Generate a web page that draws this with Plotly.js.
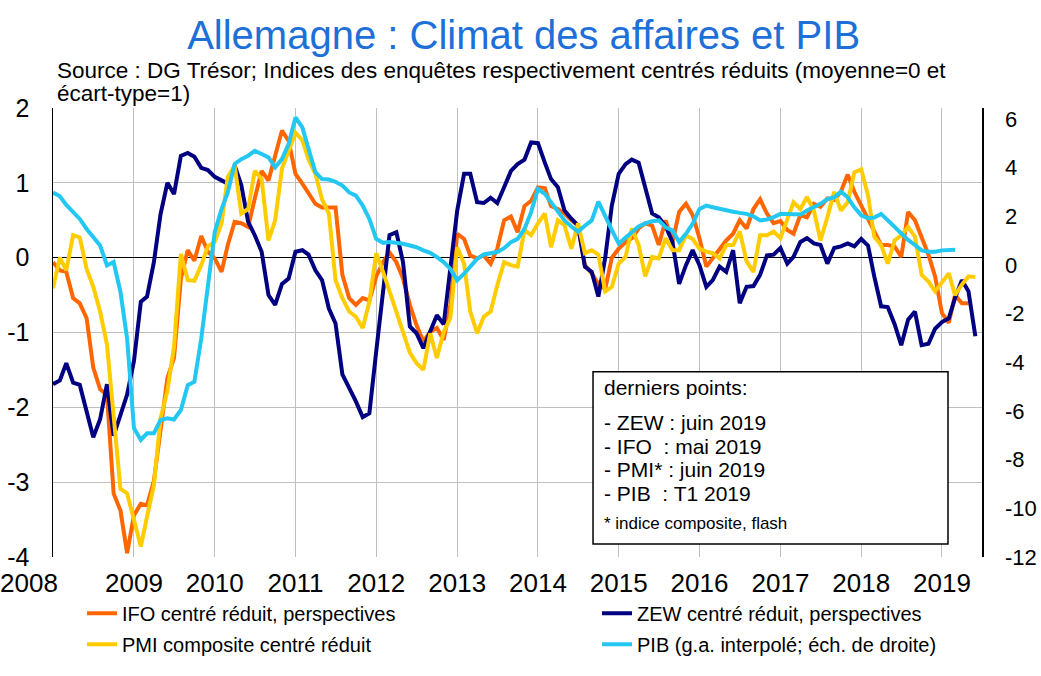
<!DOCTYPE html>
<html>
<head>
<meta charset="utf-8">
<script src="https://cdn.plot.ly/plotly-3.0.1.min.js"></script>
<style>html,body{margin:0;padding:0;background:#fff;}#chart{width:1041px;height:676px;}</style>
</head>
<body>
<div id="chart"></div>
<script>
// Monthly series, first month = January 2008
const startYear = 2008;
const yearTicks = [2008,2009,2010,2011,2012,2013,2014,2015,2016,2017,2018,2019];
const leftTicks = [-4,-3,-2,-1,0,1,2];
const rightTicks = [-12,-10,-8,-6,-4,-2,0,2,4,6];

const seriesNames = ["IFO centré réduit, perspectives", "ZEW centré réduit, perspectives",
  "PMI composite centré réduit", "PIB (g.a. interpolé; éch. de droite)"];

const ifo = [-0.06,-0.17,-0.19,-0.54,-0.61,-0.81,-1.47,-1.76,-1.83,-3.15,-3.38,-3.95,
  -3.44,-3.29,-3.31,-2.98,-2.31,-1.61,-1.34,-0.28,0.10,-0.04,0.29,0.08,
  -0.01,-0.19,0.17,0.48,0.46,0.41,0.79,1.16,1.03,1.36,1.70,1.56,
  1.12,0.99,0.85,0.72,0.67,0.67,0.67,-0.23,-0.54,-0.63,-0.54,-0.57,
  -0.25,-0.06,0.07,-0.06,-0.28,-0.63,-0.90,-1.12,-0.99,-0.94,-1.10,-0.63,
  0.32,0.25,0.03,-0.01,0.03,-0.08,0.12,0.50,0.55,0.34,0.69,0.76,
  0.94,0.93,0.69,0.65,0.59,0.50,0.43,-0.10,-0.21,-0.35,-0.42,0.00,
  0.12,0.21,0.26,0.39,0.46,0.43,0.17,0.50,0.21,0.61,0.72,0.57,
  0.26,-0.12,-0.01,0.12,0.23,0.32,0.50,0.39,0.65,0.78,0.59,0.46,
  0.49,0.37,0.32,0.57,0.54,0.72,0.68,0.79,0.77,0.88,1.11,0.88,
  0.70,0.52,0.35,0.17,0.17,0.15,0.01,0.61,0.50,0.28,0.04,-0.25,
  -0.74,-0.87,-0.50,-0.61,-0.61];

const zew = [-1.69,-1.64,-1.41,-1.67,-1.70,-2.05,-2.40,-2.16,-1.69,-2.38,-2.09,-1.83,
  -1.38,-0.59,-0.52,-0.06,0.58,1.00,0.85,1.36,1.40,1.35,1.20,1.17,
  1.08,1.03,0.99,1.23,0.97,0.48,0.30,0.08,-0.50,-0.63,-0.35,-0.28,
  0.08,0.10,0.04,-0.17,-0.30,-0.68,-0.88,-1.56,-1.74,-1.92,-2.13,-2.08,
  -1.25,-0.45,0.30,0.34,-0.06,-0.92,-1.01,-1.21,-0.99,-0.77,-0.89,-0.15,
  0.63,1.12,1.12,0.74,0.73,0.80,0.73,0.94,1.16,1.25,1.31,1.54,
  1.53,1.27,1.05,0.94,0.63,0.52,0.43,-0.12,-0.19,-0.52,0.00,0.70,
  1.12,1.25,1.31,1.27,0.95,0.59,0.54,0.42,0.21,-0.35,-0.10,0.10,
  -0.10,-0.39,-0.30,-0.12,-0.19,0.10,-0.61,-0.39,-0.38,-0.23,0.03,0.04,
  0.13,-0.08,0.01,0.21,0.26,0.19,0.17,-0.08,0.13,0.15,0.19,0.15,
  0.25,0.16,-0.25,-0.65,-0.66,-0.89,-1.17,-0.83,-0.72,-1.17,-1.15,-0.95,
  -0.86,-0.81,-0.54,-0.30,-0.45,-1.05];

const pmi = [-0.41,0.00,-0.17,0.30,0.27,-0.15,-0.39,-0.72,-1.16,-2.09,-3.09,-3.15,
  -3.49,-3.86,-3.46,-3.04,-2.15,-1.78,-1.19,0.05,-0.30,-0.31,-0.10,0.15,
  0.21,0.46,1.08,1.23,0.59,0.65,1.16,1.05,0.23,0.50,1.19,1.43,
  1.67,1.57,1.31,1.12,0.78,0.59,-0.30,-0.54,-0.72,-0.79,-0.94,-0.59,
  0.06,-0.19,-0.45,-0.72,-0.99,-1.27,-1.41,-1.50,-1.01,-1.34,-0.99,-0.81,
  0.14,-0.08,-0.72,-1.01,-0.79,-0.72,-0.37,-0.06,-0.10,-0.12,0.37,0.30,
  0.46,0.59,0.14,0.50,0.43,0.12,0.46,0.06,0.10,0.04,-0.45,-0.39,
  -0.08,0.01,0.39,0.17,-0.25,0.01,-0.01,0.26,0.10,0.10,0.30,0.25,
  0.12,0.08,0.06,-0.01,0.17,0.17,0.35,-0.05,-0.19,0.30,0.30,0.35,
  0.26,0.52,0.74,0.65,0.81,0.63,0.23,0.54,0.88,0.63,0.74,1.14,
  1.18,0.83,0.28,0.17,-0.08,0.23,0.30,0.41,0.28,-0.23,-0.32,-0.45,
  -0.32,-0.21,-0.50,-0.36,-0.25,-0.26];

const pib = [2.98,2.82,2.47,2.17,1.89,1.48,1.14,0.80,-0.02,0.12,-1.11,-3.03,
  -6.71,-7.19,-6.92,-6.92,-6.37,-6.30,-6.35,-5.96,-4.94,-4.80,-3.03,-0.84,
  1.35,2.30,2.98,4.15,4.35,4.49,4.69,4.56,4.42,4.01,4.35,4.97,
  6.06,5.65,4.76,3.81,3.53,3.51,3.42,3.26,2.98,2.85,2.44,1.89,
  1.07,0.91,0.94,0.91,0.87,0.80,0.73,0.60,0.50,0.32,0.12,-0.16,
  -0.63,-0.36,-0.09,0.25,0.43,0.50,0.53,0.69,0.94,1.07,1.48,2.17,
  3.12,2.92,2.58,2.17,1.83,1.58,1.37,1.61,1.83,2.60,1.98,1.43,
  0.88,1.12,1.37,1.58,1.71,1.80,1.83,1.55,1.42,0.94,1.28,1.69,
  2.30,2.44,2.37,2.30,2.24,2.19,2.14,2.10,2.00,1.83,1.87,1.96,
  2.10,2.10,2.10,2.07,2.24,2.37,2.51,2.71,2.78,3.01,2.78,2.37,
  2.04,1.92,1.95,2.10,1.83,1.55,1.31,1.03,0.82,0.60,0.54,0.54,
  0.60,0.60,0.63];

const boxLines = ["derniers points:", "- ZEW : juin 2019", "- IFO\u00a0\u00a0: mai 2019",
  "- PMI* : juin 2019", "- PIB\u00a0\u00a0: T1 2019", "* indice composite, flash"];

function months(n) {
  const out = [];
  for (let i = 0; i < n; i++) {
    const y = startYear + Math.floor(i / 12), m = (i % 12) + 1;
    out.push(y + "-" + (m < 10 ? "0" + m : m) + "-01");
  }
  return out;
}

const FONT = "Liberation Sans, Arial, sans-serif";
const colors = ["#FF6600", "#000080", "#FFCC00", "#22C7F2"];
const dataSets = [ifo, zew, pmi, pib];
const legendOf = ["legend", "legend2", "legend", "legend2"];

const traces = dataSets.map((d, i) => ({
  type: "scatter", mode: "lines",
  x: months(d.length), y: d,
  name: seriesNames[i],
  yaxis: i === 3 ? "y2" : "y",
  legend: legendOf[i],
  legendgroup: "g" + i,
  line: {color: colors[i], width: 4},
  hoverinfo: "skip"
}));

const xRange = ["2008-01-01", "2019-07-01"];
const tickVals = yearTicks.map(y => y + "-01-01");
const tickText = yearTicks.map((y, i) => i === 0 ? "" : String(y));

const annotations = [
  {xref: "paper", yref: "paper", x: 0.002, y: 1.084, xanchor: "left", yanchor: "middle", showarrow: false,
   text: "Source : DG Trésor; Indices des enquêtes respectivement centrés réduits (moyenne=0 et", font: {family: FONT, size: 22.5, color: "#000"}},
  {xref: "paper", yref: "paper", x: 0.002, y: 1.033, xanchor: "left", yanchor: "middle", showarrow: false,
   text: "écart-type=1)", font: {family: FONT, size: 22.5, color: "#000"}},
  {xref: "paper", yref: "paper", x: -0.0258, y: -0.058, xanchor: "center", yanchor: "middle", showarrow: false,
   text: String(yearTicks[0]), font: {family: FONT, size: 26, color: "#000"}}
];
const boxY = [0.377, 0.299, 0.247, 0.194, 0.141, 0.075];
boxLines.forEach((t, i) => annotations.push({
  xref: "paper", yref: "paper", x: 0.5905, y: boxY[i], xanchor: "left", yanchor: "middle", showarrow: false,
  text: t, font: {family: FONT, size: i === 5 ? 17 : 21, color: "#000"}
}));

const legendBase = {orientation: "v", y: -0.082, xanchor: "left", yanchor: "top", tracegroupgap: 2,
  font: {family: FONT, size: 20, color: "#000"}, bgcolor: "rgba(0,0,0,0)", borderwidth: 0};

const layout = {
  width: 1041, height: 676,
  margin: {l: 53, r: 59, t: 108, b: 117, pad: 0},
  paper_bgcolor: "#fff", plot_bgcolor: "#fff",
  font: {family: FONT, color: "#000"},
  title: {text: "Allemagne : Climat des affaires et PIB", font: {family: FONT, size: 40, color: "#1E6FD8"},
          xref: "container", x: 0.503, yref: "container", y: 0.948, xanchor: "center", yanchor: "middle"},
  showlegend: true,
  legend: Object.assign({}, legendBase, {x: 0.0312}),
  legend2: Object.assign({}, legendBase, {x: 0.5856}),
  xaxis: {type: "date", range: xRange, tickvals: tickVals, ticktext: tickText,
          showgrid: true, gridcolor: "#BFBFBF", gridwidth: 1, showline: false, zeroline: false, ticks: "",
          tickfont: {family: FONT, size: 26, color: "#000"}, ticklabelstandoff: 8, fixedrange: true},
  xaxis2: {type: "date", range: xRange, overlaying: "x", anchor: "free", position: 0.6645,
           tick0: "2008-01-01", dtick: "M3", ticks: "outside", ticklen: 5, tickwidth: 1, tickcolor: "#000",
           showticklabels: false, showgrid: false, showline: false, zeroline: false, fixedrange: true},
  yaxis: {range: [-4, 2], tickvals: leftTicks, ticktext: leftTicks.map(String),
          showgrid: true, gridcolor: "#BFBFBF", gridwidth: 1,
          zeroline: true, zerolinecolor: "#000", zerolinewidth: 1.5,
          showline: true, linecolor: "#000", linewidth: 1.5, ticks: "",
          tickfont: {family: FONT, size: 25, color: "#000"}, ticklabelstandoff: 17, fixedrange: true},
  yaxis2: {range: [-12, 6.45], tickvals: rightTicks, ticktext: rightTicks.map(String),
           overlaying: "y", side: "right",
           showgrid: false, zeroline: false, showline: true, linecolor: "#000", linewidth: 1.5, ticks: "",
           tickfont: {family: FONT, size: 22, color: "#000"}, ticklabelstandoff: 17, fixedrange: true},
  shapes: [{type: "rect", xref: "paper", yref: "paper", x0: 0.5813, x1: 0.9634, y0: 0.0288, y1: 0.4124,
            line: {color: "#000", width: 1.5}, fillcolor: "#fff", layer: "above"}],
  annotations: annotations
};

Plotly.newPlot("chart", traces, layout, {displayModeBar: false, staticPlot: true});
</script>
</body>
</html>
